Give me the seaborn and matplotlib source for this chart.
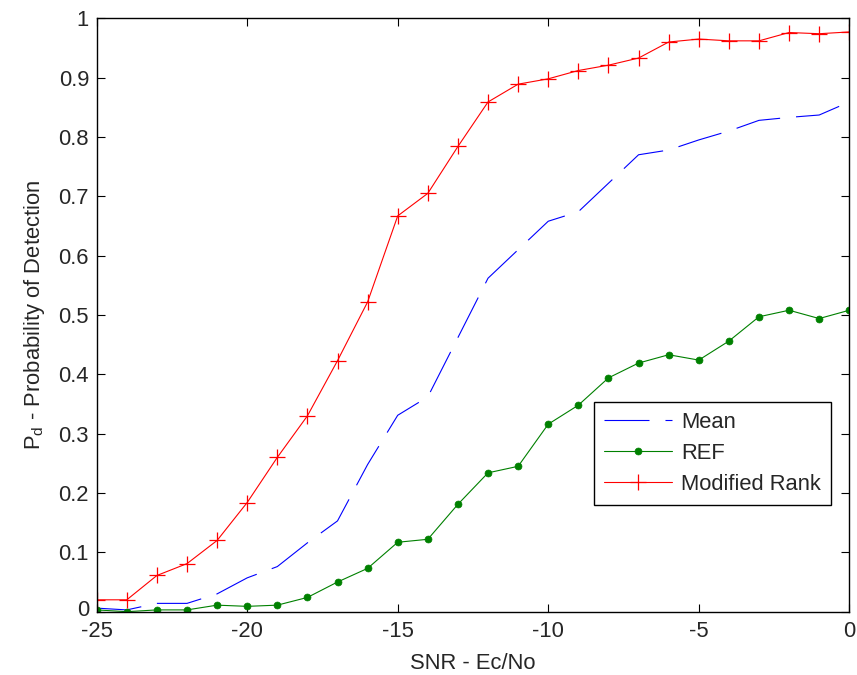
import matplotlib
matplotlib.use("Agg")
import matplotlib.pyplot as plt
import matplotlib.transforms as mtransforms
import seaborn as sns
import pandas as pd

snr = [-25, -24, -23, -22, -21, -20, -19, -18, -17, -16, -15, -14, -13,
       -12, -11, -10, -9, -8, -7, -6, -5, -4, -3, -2, -1, 0]

mean_pd = [0.006, 0.003, 0.014, 0.014, 0.030, 0.057, 0.076, 0.116, 0.153, 0.248,
           0.331, 0.362, 0.462, 0.562, 0.610, 0.658, 0.674, 0.722, 0.770, 0.778,
           0.795, 0.810, 0.828, 0.833, 0.837, 0.859]

ref_pd = [0.003, 0.000, 0.003, 0.003, 0.011, 0.009, 0.011, 0.024, 0.050, 0.073,
          0.117, 0.122, 0.181, 0.234, 0.245, 0.316, 0.348, 0.394, 0.419, 0.433,
          0.424, 0.456, 0.497, 0.508, 0.494, 0.508]

modrank_pd = [0.020, 0.020, 0.061, 0.081, 0.120, 0.184, 0.260, 0.330, 0.423, 0.522,
              0.667, 0.705, 0.784, 0.859, 0.889, 0.898, 0.912, 0.921, 0.933, 0.960,
              0.965, 0.962, 0.962, 0.976, 0.974, 0.977]

series_names = ["Mean", "REF", "Modified Rank"]
x_ticks = [-25, -20, -15, -10, -5, 0]
y_ticks = [0, 0.1, 0.2, 0.3, 0.4, 0.5, 0.6, 0.7, 0.8, 0.9, 1]
y_tick_labels = ["0", "0.1", "0.2", "0.3", "0.4", "0.5", "0.6", "0.7", "0.8", "0.9", "1"]

sns.set_theme(style="white")
plt.rcParams["font.family"] = ["Liberation Sans", "DejaVu Sans"]
plt.rcParams["mathtext.fontset"] = "custom"
plt.rcParams["mathtext.rm"] = "Liberation Sans"
plt.rcParams["mathtext.it"] = "Liberation Sans"
plt.rcParams["lines.scale_dashes"] = False

blue = (0, 0, 1)
green = (0, 0.5, 0)
red = (1, 0, 0)

fs = 15.8
fig = plt.figure(figsize=(8.57, 6.75), dpi=100)
ax = fig.add_axes([0.1128, 0.0938, 0.991 - 0.1128, 0.9729 - 0.0938])

df_mean = pd.DataFrame({"x": snr, "y": mean_pd})
df_ref = pd.DataFrame({"x": snr, "y": ref_pd})
df_mr = pd.DataFrame({"x": snr, "y": modrank_pd})

sns.lineplot(data=df_mean, x="x", y="y", ax=ax, color=blue, lw=0.8,
             label=series_names[0], linestyle=(0, (32.4, 11.5)))
sns.lineplot(data=df_ref, x="x", y="y", ax=ax, color=green, lw=0.8,
             marker="o", markersize=5, markeredgewidth=0.5,
             markeredgecolor=green, markerfacecolor=green,
             label=series_names[1])
sns.lineplot(data=df_mr, x="x", y="y", ax=ax, color=red, lw=0.8,
             marker="+", markersize=11, markeredgewidth=0.9,
             markeredgecolor=red, markerfacecolor=red,
             label=series_names[2])

ax.set_xlim(-25, 0)
ax.set_ylim(0, 1)
ax.set_xticks(x_ticks)
ax.set_xticklabels([str(t) for t in x_ticks], fontsize=fs)
ax.set_yticks(y_ticks)
ax.set_yticklabels(y_tick_labels, fontsize=fs)
ax.tick_params(direction="in", length=6, width=0.8, top=True, right=True,
               bottom=True, left=True, color="black")
ax.tick_params(axis="x", pad=6.5)
ax.tick_params(axis="y", pad=5.5)
for s in ax.spines.values():
    s.set_visible(True)
    s.set_color("black")
    s.set_linewidth(1.0)

# nudge the "0" y tick label slightly up so it does not touch "-25"
zero_lbl = ax.get_yticklabels()[0]
zero_lbl.set_transform(zero_lbl.get_transform() +
                       mtransforms.ScaledTranslation(0, 3 / 72, fig.dpi_scale_trans))

ax.set_xlabel("SNR - Ec/No", fontsize=fs, labelpad=8)
ax.set_ylabel(r"P$_\mathregular{d}$ - Probability of Detection", fontsize=fs, labelpad=8)

leg = ax.legend(loc="upper left", bbox_to_anchor=(0.661, 0.353), borderaxespad=0,
                fontsize=fs, frameon=True, fancybox=False, framealpha=1,
                edgecolor="black", handlelength=3.1, handletextpad=0.4,
                labelspacing=0.45, borderpad=0.45)
leg.get_frame().set_linewidth(1.0)

fig.savefig("out.png", dpi=100)
